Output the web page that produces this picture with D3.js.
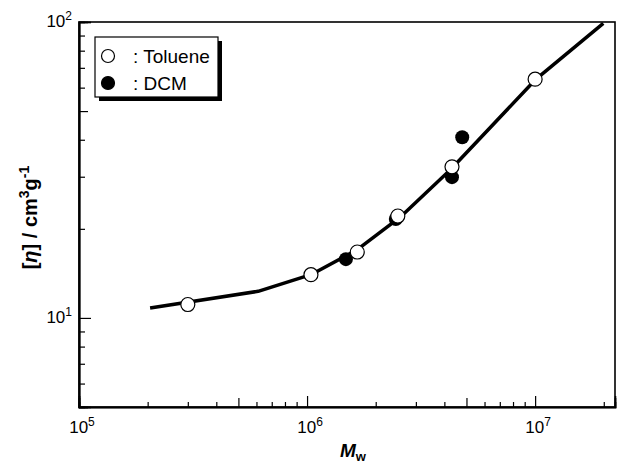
<!DOCTYPE html>
<meta charset="utf-8">
<head>
    <title>Mw vs intrinsic viscosity</title>
</head>
<style>
body { margin: 0; background: #fff; }
svg { font-family: "Liberation Sans", Arial, sans-serif; }
.axis path { stroke: #000; stroke-width: 1.6px; }
.axis line { stroke: #000; stroke-width: 1.2px; }
.frame { fill: none; stroke: #000; stroke-width: 1.6px; }
.fit { fill: none; stroke: #000; stroke-width: 3.5px; stroke-linejoin: round; }
</style>
<body>
<script src="https://cdn.jsdelivr.net/npm/d3@7"></script>
<script>

// data
var tolueneMw  = [3.0e5, 1.04e6, 1.66e6, 2.5e6, 4.32e6, 1.0e7];
var tolueneEta = [11.1, 14.0, 16.7, 22.1, 32.4, 64.1];
var dcmMw  = [1.48e6, 2.45e6, 4.32e6, 4.79e6];
var dcmEta = [15.8, 21.6, 29.9, 40.8];
var fitMw  = [2.05e5, 6.1e5, 1.04e6, 1.66e6, 2.56e6, 4.24e6, 1.0e7, 1.99e7];
var fitEta = [10.8, 12.3, 14.0, 17.0, 21.9, 31.6, 63.7, 99];
var xDecades = [5, 6, 7];
var yDecades = [1, 2];
var legendLabels = [": Toluene", ": DCM"];

var W = 630, H = 464;
var margin = {top: 22, right: 15, bottom: 57, left: 79};
var width = W - margin.left - margin.right,
    height = H - margin.top - margin.bottom;

var x = d3.scaleLog().domain([1e5, 2.24e7]).range([0, width]);
var y = d3.scaleLog().domain([5, 100]).range([height, 0]);

var svg = d3.select("body").append("svg")
    .attr("width", W)
    .attr("height", H);

var g = svg.append("g")
    .attr("transform", "translate(" + margin.left + "," + margin.top + ")");

// tick sets
function ticksIn(dom, mults) {
  var out = [];
  for (var e = -1; e < 9; e++) {
    mults.forEach(function(m) {
      var v = m * Math.pow(10, e);
      if (v >= dom[0] * 0.999 && v <= dom[1] * 1.001) out.push(v);
    });
  }
  return out;
}

var xMajor = ticksIn(x.domain(), [1]),
    xMid = ticksIn(x.domain(), [5]),
    xMinor = ticksIn(x.domain(), [2, 3, 4, 6, 7, 8, 9]);
var yMajor = ticksIn(y.domain(), [1]),
    yMid = ticksIn(y.domain(), [5]),
    yMinor = ticksIn(y.domain(), [2, 3, 4, 6, 7, 8, 9]);

// frame
g.append("rect")
    .attr("class", "frame")
    .attr("width", width)
    .attr("height", height);

[[xMinor, 5], [xMid, 9], [xMajor, 11]].forEach(function(t) {
  g.append("g")
      .attr("class", "axis axis--x")
      .attr("transform", "translate(0," + height + ")")
      .call(d3.axisBottom(x).tickValues(t[0]).tickSize(-t[1]).tickFormat(""));
});

[[yMinor, 6], [yMid, 9], [yMajor, 12]].forEach(function(t) {
  g.append("g")
      .attr("class", "axis axis--y")
      .call(d3.axisLeft(y).tickValues(t[0]).tickSize(-t[1]).tickFormat(""));
});

// tick labels with superscripts
xDecades.forEach(function(e) {
  var t = g.append("text")
      .attr("x", x(Math.pow(10, e)) + 3)
      .attr("y", height + 26)
      .attr("text-anchor", "middle")
      .style("font-size", "17px");
  t.append("tspan").text("10");
  t.append("tspan").attr("dy", -7).style("font-size", "12px").text(e);
});

yDecades.forEach(function(e) {
  var t = g.append("text")
      .attr("x", -7)
      .attr("y", y(Math.pow(10, e)) + 5)
      .attr("text-anchor", "end")
      .style("font-size", "17px");
  t.append("tspan").text("10");
  t.append("tspan").attr("dy", -7).style("font-size", "12px").text(e);
});

// axis titles
var xt = svg.append("text")
    .attr("x", margin.left + width / 2 + 6)
    .attr("y", 457)
    .attr("text-anchor", "middle")
    .style("font-size", "19px")
    .style("font-weight", "bold");
xt.append("tspan").style("font-style", "italic").text("M");
xt.append("tspan").attr("dy", 4).style("font-size", "13px").text("w");

var yt = svg.append("text")
    .attr("transform", "translate(37," + (margin.top + height / 2 + 3) + ") rotate(-90)")
    .attr("text-anchor", "middle")
    .style("font-size", "20px")
    .style("font-weight", "bold");
yt.append("tspan").text("[");
yt.append("tspan").style("font-style", "italic").text("η");
yt.append("tspan").text("] / cm");
yt.append("tspan").attr("dy", -8).style("font-size", "14px").text("3");
yt.append("tspan").attr("dy", 8).text("g");
yt.append("tspan").attr("dy", -8).style("font-size", "14px").text("-1");

// fit line
var fit = fitMw.map(function(d, i) { return [d, fitEta[i]]; });
var line = d3.line()
    .x(function(d) { return x(d[0]); })
    .y(function(d) { return y(d[1]); });

g.append("path")
    .datum(fit)
    .attr("class", "fit")
    .attr("d", line);

// points
var tol = tolueneMw.map(function(d, i) { return [d, tolueneEta[i]]; });
var dcm = dcmMw.map(function(d, i) { return [d, dcmEta[i]]; });

g.selectAll(".dcm")
    .data(dcm)
  .enter().append("circle")
    .attr("class", "dcm")
    .attr("cx", function(d) { return x(d[0]); })
    .attr("cy", function(d) { return y(d[1]); })
    .attr("r", 7)
    .style("fill", "#000");

g.selectAll(".tol")
    .data(tol)
  .enter().append("circle")
    .attr("class", "tol")
    .attr("cx", function(d) { return x(d[0]); })
    .attr("cy", function(d) { return y(d[1]); })
    .attr("r", 7)
    .style("fill", "#fff")
    .style("stroke", "#000")
    .style("stroke-width", 1.2);

// legend box with shadow
var lg = svg.append("g").attr("transform", "translate(95,37)");
lg.append("rect")
    .attr("x", 4).attr("y", 4)
    .attr("width", 123).attr("height", 60)
    .style("fill", "#000");
lg.append("rect")
    .attr("width", 123).attr("height", 60)
    .style("fill", "#fff")
    .style("stroke", "#000")
    .style("stroke-width", 1.2);

var item = lg.selectAll(".legend")
    .data(legendLabels)
  .enter().append("g")
    .attr("class", "legend")
    .attr("transform", function(d, i) { return "translate(0," + (19 + i * 27) + ")"; });

item.append("circle")
    .attr("cx", 13)
    .attr("r", 6.5)
    .style("fill", function(d, i) { return i ? "#000" : "#fff"; })
    .style("stroke", "#000")
    .style("stroke-width", 1.2);

item.append("text")
    .attr("x", 38)
    .attr("dy", "0.36em")
    .style("font-size", "19px")
    .text(function(d) { return d; });

</script>
</body>
